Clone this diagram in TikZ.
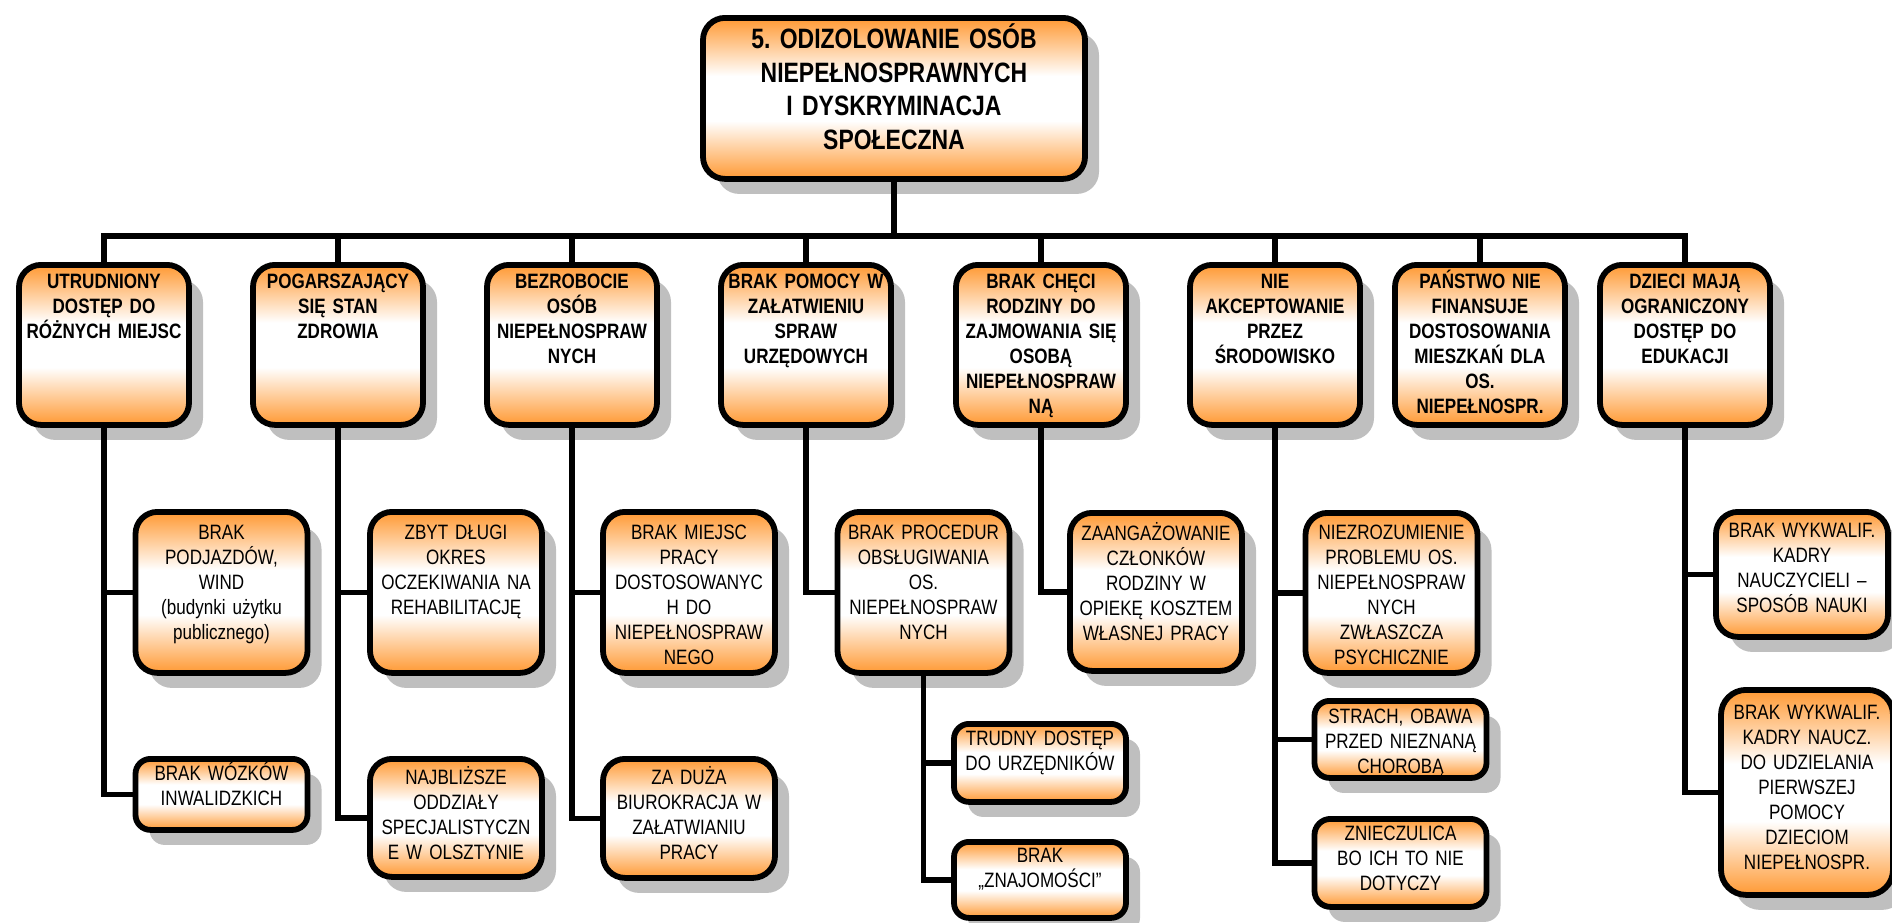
\documentclass[tikz,border=0pt]{standalone}
\usepackage{fontspec}
\setmainfont{Liberation Sans}[FakeStretch=0.82]
\usetikzlibrary{shadows,backgrounds}
\frenchspacing

\definecolor{boxorange}{RGB}{255,153,51}
\pgfdeclareverticalshading{boxfade}{100bp}{color(0bp)=(boxorange); color(25bp)=(boxorange); color(43bp)=(white); color(57bp)=(white); color(75bp)=(boxorange); color(100bp)=(boxorange)}

\tikzset{
  box/.style={draw, line width=2.9pt, rounded corners=11pt, shade, shading=boxfade,
    drop shadow={shadow xshift=7pt, shadow yshift=-7.5pt, fill=black, opacity=.25},
    inner sep=0pt, align=center, anchor=north},
  root/.style={box, font=\bfseries\fontsize{14}{16.7}\selectfont, text width=191pt, text height=15.5pt, text depth=65pt},
  cause/.style={box, font=\bfseries\fontsize{10.4}{12.5}\selectfont, text width=85pt, text height=12pt, text depth=68pt},
  effect/.style 2 args={box, font=\fontsize{10.4}{12.5}\selectfont, text width=86pt, text height=#1, text depth=#2},
  link/.style={line width=2.6pt}
}

\begin{document}
\begin{tikzpicture}[x=0.5pt,y=-0.5pt]
\useasboundingbox (0,0) rectangle (1892,922);

% glowny problem
\node[root] (root) at (894,15) {5. ODIZOLOWANIE OSÓB\\ NIEPEŁNOSPRAWNYCH\\ I DYSKRYMINACJA\\ SPOŁECZNA};

% przyczyny
\node[cause] (b1) at (104,262) {UTRUDNIONY\\ DOSTĘP DO\\ RÓŻNYCH MIEJSC};
\node[cause] (b2) at (338,262) {POGARSZAJĄCY\\ SIĘ STAN\\ ZDROWIA};
\node[cause] (b3) at (572,262) {BEZROBOCIE\\ OSÓB\\ NIEPEŁNOSPRAW\\ NYCH};
\node[cause] (b4) at (806,262) {BRAK POMOCY W\\ ZAŁATWIENIU\\ SPRAW\\ URZĘDOWYCH};
\node[cause] (b5) at (1041,262) {BRAK CHĘCI\\ RODZINY DO\\ ZAJMOWANIA SIĘ\\ OSOBĄ\\ NIEPEŁNOSPRAW\\ NĄ};
\node[cause] (b6) at (1275,262) {NIE\\ AKCEPTOWANIE\\ PRZEZ\\ ŚRODOWISKO};
\node[cause] (b7) at (1480,262) {PAŃSTWO NIE\\ FINANSUJE\\ DOSTOSOWANIA\\ MIESZKAŃ DLA\\ OS.\\ NIEPEŁNOSPR.};
\node[cause] (b8) at (1685,262) {DZIECI MAJĄ\\ OGRANICZONY\\ DOSTĘP DO\\ EDUKACJI};

% skutki
\node[effect={14pt}{66.5pt}] (c11) at (221.5,509) {BRAK\\ PODJAZDÓW,\\ WIND\\ (budynki użytku\\ publicznego)};
\node[effect={11pt}{24.5pt}, rounded corners=7.5pt] (c12) at (221.5,756) {BRAK WÓZKÓW\\ INWALIDZKICH};
\node[effect={14pt}{66.5pt}] (c21) at (456,509) {ZBYT DŁUGI\\ OKRES\\ OCZEKIWANIA NA\\ REHABILITACJĘ};
\node[effect={13pt}{46pt}] (c22) at (456,756) {NAJBLIŻSZE\\ ODDZIAŁY\\ SPECJALISTYCZN\\ E W OLSZTYNIE};
\node[effect={14pt}{66.5pt}] (c31) at (689,509) {BRAK MIEJSC\\ PRACY\\ DOSTOSOWANYC\\ H DO\\ NIEPEŁNOSPRAW\\ NEGO};
\node[effect={13pt}{46.5pt}] (c32) at (689,756) {ZA DUŻA\\ BIUROKRACJA W\\ ZAŁATWIANIU\\ PRACY};
\node[effect={14pt}{66.5pt}] (c41) at (923.5,509) {BRAK PROCEDUR\\ OBSŁUGIWANIA\\ OS.\\ NIEPEŁNOSPRAW\\ NYCH};
\node[effect={11pt}{28pt}, rounded corners=7.5pt] (c42) at (1040,721) {TRUDNY DOSTĘP\\ DO URZĘDNIKÓW};
\node[effect={10.5pt}{27.5pt}, rounded corners=7.5pt] (c43) at (1040,839) {BRAK\\ „ZNAJOMOŚCI”};
\node[effect={14pt}{65pt}] (c51) at (1156,510) {ZAANGAŻOWANIE\\ CZŁONKÓW\\ RODZINY W\\ OPIEKĘ KOSZTEM\\ WŁASNEJ PRACY};
\node[effect={13.5pt}{66.5pt}] (c61) at (1391.5,510) {NIEZROZUMIENIE\\ PROBLEMU OS.\\ NIEPEŁNOSPRAW\\ NYCH\\ ZWŁASZCZA\\ PSYCHICZNIE};
\node[effect={11.5pt}{27pt}, rounded corners=7.5pt] (c62) at (1400.5,698) {STRACH, OBAWA\\ PRZED NIEZNANĄ\\ CHOROBĄ};
\node[effect={11pt}{33pt}, rounded corners=8pt] (c63) at (1400.5,816) {ZNIECZULICA\\ BO ICH TO NIE\\ DOTYCZY};
\node[effect={13pt}{49.5pt}] (c81) at (1802,509) {BRAK WYKWALIF.\\ KADRY\\ NAUCZYCIELI –\\ SPOSÓB NAUKI};
\node[effect={15pt}{87.5pt}, rounded corners=12.5pt] (c82) at (1807,687) {BRAK WYKWALIF.\\ KADRY NAUCZ.\\ DO UDZIELANIA\\ PIERWSZEJ\\ POMOCY\\ DZIECIOM\\ NIEPEŁNOSPR.};

% linie
\begin{scope}[on background layer]
  \fill[white] (0,0) rectangle (1892,922);
  \coordinate (bus) at (894,236);
  \foreach \n in {b1,b2,b3,b4,b5,b6,b7,b8}
    \draw[link] (root.south) |- (\n.north |- bus) -- (\n.north);
  \foreach \p/\c in {b1/c11,b1/c12,b2/c21,b2/c22,b3/c31,b3/c32,b4/c41,c41/c42,c41/c43,b5/c51,b6/c61,b6/c62,b6/c63,b8/c81,b8/c82}
    \draw[link] (\p.south) |- (\c.west);
\end{scope}
\end{tikzpicture}
\end{document}
